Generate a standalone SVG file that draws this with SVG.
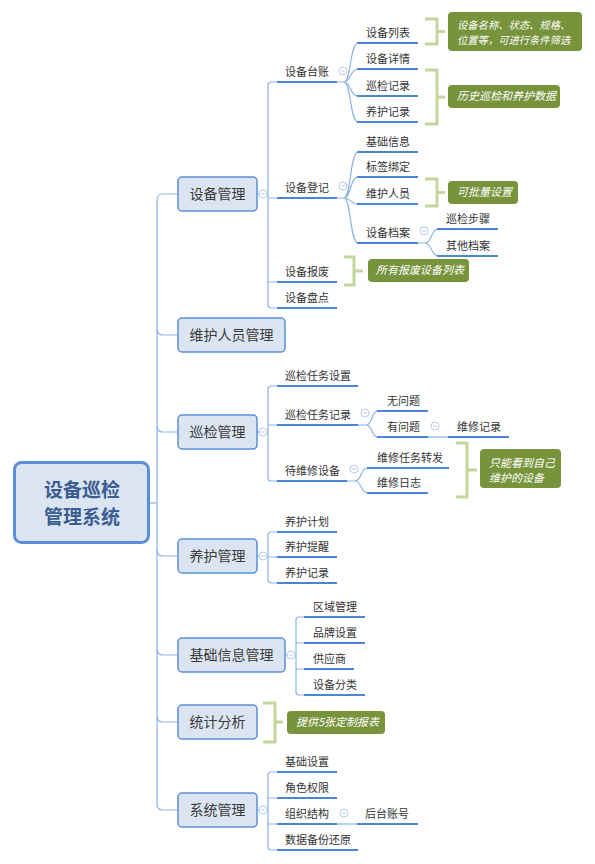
<svg xmlns="http://www.w3.org/2000/svg" width="595" height="864" viewBox="0 0 595 864">
<defs>
<style>
text{font-family:"Microsoft YaHei","Noto Sans CJK SC","Noto Sans",sans-serif}
.c{fill:none;stroke:#8db3e2;stroke-width:1.2}
.u{stroke:#4a86d8;stroke-width:2.2}
.br{fill:none;stroke:#c3d69b;stroke-width:3}
.nb{fill:#77933c}
.nt{fill:#fff;font-style:italic;font-size:11px}
.nt2{fill:#fff;font-style:italic;font-size:10.3px}
.t2{font-size:11px;fill:#333}
.b1{fill:#dbe5f1;stroke:#5b8ed6;stroke-width:1.5}
.t1{font-size:14px;fill:#3a3a3a;text-anchor:middle}
.cc{fill:#fff;stroke:#b7cbeb;stroke-width:1}
.cm{stroke:#b7cbeb;stroke-width:1}
</style>
<g id="col"><circle class="cc" r="4"/><line class="cm" x1="-2" y1="0" x2="2" y2="0"/></g>
</defs>
<rect width="595" height="864" fill="#fff"/>

<g id="connectors">
<path class="c" d="M150,503 H157"/>
<path class="c" d="M178,194 H163 Q157,194 157,200 V804 Q157,810 163,810 H178"/>
<path class="c" d="M157,329 Q157,335 163,335 H178"/>
<path class="c" d="M157,426 Q157,432 163,432 H178"/>
<path class="c" d="M157,550 Q157,556 163,556 H178"/>
<path class="c" d="M157,649 Q157,655 163,655 H178"/>
<path class="c" d="M157,716 Q157,722 163,722 H178"/>
<path class="c" d="M257,194 H268 M277,82 H271 Q268,82 268,85 V305 Q268,308 271,308 H277 M268,198 H277 M268,282 H277"/>
<path class="c" d="M337,82 H344 C351,82 350,43 358,43 M344,82 C351,82 350,69 358,69 M344,82 C351,82 350,96 358,96 M344,82 C351,82 350,122 358,122"/>
<path class="c" d="M337,198 H344 C351,198 350,152 358,152 M344,198 C351,198 350,177 358,177 M344,198 C351,198 350,204 358,204 M344,198 C351,198 350,243 358,243"/>
<path class="c" d="M418,243 H425 C432,243 431,229 438,229 M425,243 C432,243 431,256 438,256"/>
<path class="c" d="M257,432 H268 M277,386 H271 Q268,386 268,389 V478 Q268,481 271,481 H277 M268,425 H277"/>
<path class="c" d="M358,425 H366 C373,425 371,411 378,411 M366,425 C373,425 371,437 378,437"/>
<path class="c" d="M428,437 H448"/>
<path class="c" d="M347,481 H355 C362,481 360,468 368,468 M355,481 C362,481 360,493 368,493"/>
<path class="c" d="M257,556 H268 M277,532 H271 Q268,532 268,535 V580 Q268,583 271,583 H277 M268,557 H277"/>
<path class="c" d="M285,655 H296 M304,617 H299 Q296,617 296,620 V692 Q296,695 299,695 H304 M296,643 H304 M296,669 H304"/>
<path class="c" d="M257,810 H268 M277,772 H271 Q268,772 268,775 V847 Q268,850 271,850 H277 M268,798 H277 M268,824 H277"/>
<path class="c" d="M337,824 H357"/>
</g>

<g id="root">
<rect x="14.5" y="462.5" width="134" height="80" rx="7" fill="#dbe5f1" stroke="#5b8ed6" stroke-width="3"/>
<text x="82" y="497" font-size="19" font-weight="bold" fill="#3b5d92" text-anchor="middle">设备巡检</text>
<text x="82" y="524" font-size="19" font-weight="bold" fill="#3b5d92" text-anchor="middle">管理系统</text>
</g>

<g id="n-sbgl"><rect class="b1" x="178" y="177" width="79" height="34" rx="4"/><text class="t1" x="217.5" y="199">设备管理</text><use href="#col" x="263" y="194"/></g>
<g id="n-whrygl"><rect class="b1" x="178" y="318" width="107" height="34" rx="4"/><text class="t1" x="231.5" y="340">维护人员管理</text></g>
<g id="n-xjgl"><rect class="b1" x="178" y="415" width="79" height="34" rx="4"/><text class="t1" x="217.5" y="437">巡检管理</text><use href="#col" x="263" y="432"/></g>
<g id="n-yhgl"><rect class="b1" x="178" y="539" width="79" height="34" rx="4"/><text class="t1" x="217.5" y="561">养护管理</text><use href="#col" x="263" y="556"/></g>
<g id="n-jcxxgl"><rect class="b1" x="178" y="638" width="107" height="34" rx="4"/><text class="t1" x="231.5" y="660">基础信息管理</text><use href="#col" x="291" y="655"/></g>
<g id="n-tjfx"><rect class="b1" x="178" y="705" width="79" height="34" rx="4"/><text class="t1" x="217.5" y="727">统计分析</text></g>
<g id="n-xtgl"><rect class="b1" x="178" y="793" width="79" height="34" rx="4"/><text class="t1" x="217.5" y="815">系统管理</text><use href="#col" x="263" y="810"/></g>

<g id="n-sbtz"><line class="u" x1="277" y1="82" x2="337" y2="82"/><text class="t2" x="285" y="76">设备台账</text><use href="#col" x="343" y="71"/></g>
<g id="n-sblb"><line class="u" x1="357" y1="43" x2="418" y2="43"/><text class="t2" x="366" y="37">设备列表</text></g>
<g id="n-sbxq"><line class="u" x1="357" y1="69" x2="418" y2="69"/><text class="t2" x="366" y="63">设备详情</text></g>
<g id="n-xjjl"><line class="u" x1="357" y1="96" x2="418" y2="96"/><text class="t2" x="366" y="90">巡检记录</text></g>
<g id="n-yhjl1"><line class="u" x1="357" y1="122" x2="418" y2="122"/><text class="t2" x="366" y="116">养护记录</text></g>
<g id="s-1"><path class="br" d="M425,19 H437 V44 H425 M437,31.5 H445"/><rect class="nb" x="448" y="12" width="134" height="39" rx="4"/><text class="nt2" x="457" y="29">设备名称、状态、规格、</text><text class="nt2" x="457" y="44">位置等，可进行条件筛选</text></g>
<g id="s-2"><path class="br" d="M425,70 H437 V124 H425 M437,97 H445"/><rect class="nb" x="448" y="85" width="112" height="23" rx="4"/><text class="nt" x="457" y="100">历史巡检和养护数据</text></g>

<g id="n-sbdj"><line class="u" x1="277" y1="198" x2="337" y2="198"/><text class="t2" x="285" y="192">设备登记</text><use href="#col" x="343" y="186"/></g>
<g id="n-jcxx"><line class="u" x1="357" y1="152" x2="418" y2="152"/><text class="t2" x="366" y="146">基础信息</text></g>
<g id="n-bqbd"><line class="u" x1="357" y1="177" x2="418" y2="177"/><text class="t2" x="366" y="171">标签绑定</text></g>
<g id="n-whry"><line class="u" x1="357" y1="204" x2="418" y2="204"/><text class="t2" x="366" y="198">维护人员</text></g>
<g id="s-3"><path class="br" d="M425,179 H437 V206 H425 M437,192.5 H445"/><rect class="nb" x="448" y="181" width="70" height="23" rx="4"/><text class="nt" x="457" y="196">可批量设置</text></g>
<g id="n-sbda"><line class="u" x1="357" y1="243" x2="418" y2="243"/><text class="t2" x="366" y="237">设备档案</text><use href="#col" x="424" y="231"/></g>
<g id="n-xjbz"><line class="u" x1="437" y1="229" x2="498" y2="229"/><text class="t2" x="446" y="223">巡检步骤</text></g>
<g id="n-qtda"><line class="u" x1="437" y1="256" x2="498" y2="256"/><text class="t2" x="446" y="250">其他档案</text></g>

<g id="n-sbbf"><line class="u" x1="277" y1="282" x2="337" y2="282"/><text class="t2" x="285" y="276">设备报废</text></g>
<g id="s-4"><path class="br" d="M344,257 H354 V285 H344 M354,271 H363"/><rect class="nb" x="368" y="259" width="101" height="23" rx="4"/><text class="nt" x="376" y="274">所有报废设备列表</text></g>
<g id="n-sbpd"><line class="u" x1="277" y1="308" x2="337" y2="308"/><text class="t2" x="285" y="302">设备盘点</text></g>

<g id="n-xjrwsz"><line class="u" x1="277" y1="386" x2="358" y2="386"/><text class="t2" x="285" y="380">巡检任务设置</text></g>
<g id="n-xjrwjl"><line class="u" x1="277" y1="425" x2="358" y2="425"/><text class="t2" x="285" y="419">巡检任务记录</text><use href="#col" x="365" y="413"/></g>
<g id="n-wwt"><line class="u" x1="377" y1="411" x2="428" y2="411"/><text class="t2" x="387" y="405">无问题</text></g>
<g id="n-ywt"><line class="u" x1="377" y1="437" x2="428" y2="437"/><text class="t2" x="387" y="431">有问题</text><use href="#col" x="435" y="426"/></g>
<g id="n-wxjl"><line class="u" x1="448" y1="437" x2="509" y2="437"/><text class="t2" x="457" y="431">维修记录</text></g>
<g id="n-dwxsb"><line class="u" x1="277" y1="481" x2="347" y2="481"/><text class="t2" x="285" y="475">待维修设备</text><use href="#col" x="354" y="469"/></g>
<g id="n-wxrwzf"><line class="u" x1="367" y1="468" x2="449" y2="468"/><text class="t2" x="377" y="462">维修任务转发</text></g>
<g id="n-wxrz"><line class="u" x1="367" y1="493" x2="428" y2="493"/><text class="t2" x="377" y="487">维修日志</text></g>
<g id="s-5"><path class="br" d="M456,443 H467 V497 H456 M467,470 H477"/><rect class="nb" x="480" y="449" width="81" height="39" rx="4"/><text class="nt" x="489" y="467">只能看到自己</text><text class="nt" x="489" y="482">维护的设备</text></g>

<g id="n-yhjh"><line class="u" x1="277" y1="532" x2="337" y2="532"/><text class="t2" x="285" y="526">养护计划</text></g>
<g id="n-yhtx"><line class="u" x1="277" y1="557" x2="337" y2="557"/><text class="t2" x="285" y="551">养护提醒</text></g>
<g id="n-yhjl2"><line class="u" x1="277" y1="583" x2="337" y2="583"/><text class="t2" x="285" y="577">养护记录</text></g>

<g id="n-qygl"><line class="u" x1="304" y1="617" x2="365" y2="617"/><text class="t2" x="313" y="611">区域管理</text></g>
<g id="n-ppsz"><line class="u" x1="304" y1="643" x2="365" y2="643"/><text class="t2" x="313" y="637">品牌设置</text></g>
<g id="n-gys"><line class="u" x1="304" y1="669" x2="354" y2="669"/><text class="t2" x="313" y="663">供应商</text></g>
<g id="n-sbfl"><line class="u" x1="304" y1="695" x2="365" y2="695"/><text class="t2" x="313" y="689">设备分类</text></g>

<g id="s-6"><path class="br" d="M263,703 H275 V742 H263 M275,722 H283"/><rect class="nb" x="287" y="711" width="98" height="23" rx="4"/><text class="nt" x="296" y="726">提供5张定制报表</text></g>

<g id="n-jcsz"><line class="u" x1="277" y1="772" x2="337" y2="772"/><text class="t2" x="285" y="766">基础设置</text></g>
<g id="n-jsqx"><line class="u" x1="277" y1="798" x2="337" y2="798"/><text class="t2" x="285" y="792">角色权限</text></g>
<g id="n-zzjg"><line class="u" x1="277" y1="824" x2="337" y2="824"/><text class="t2" x="285" y="818">组织结构</text><use href="#col" x="344" y="813"/></g>
<g id="n-htzh"><line class="u" x1="357" y1="824" x2="418" y2="824"/><text class="t2" x="365" y="818">后台账号</text></g>
<g id="n-sjbf"><line class="u" x1="277" y1="850" x2="358" y2="850"/><text class="t2" x="285" y="844">数据备份还原</text></g>
</svg>
